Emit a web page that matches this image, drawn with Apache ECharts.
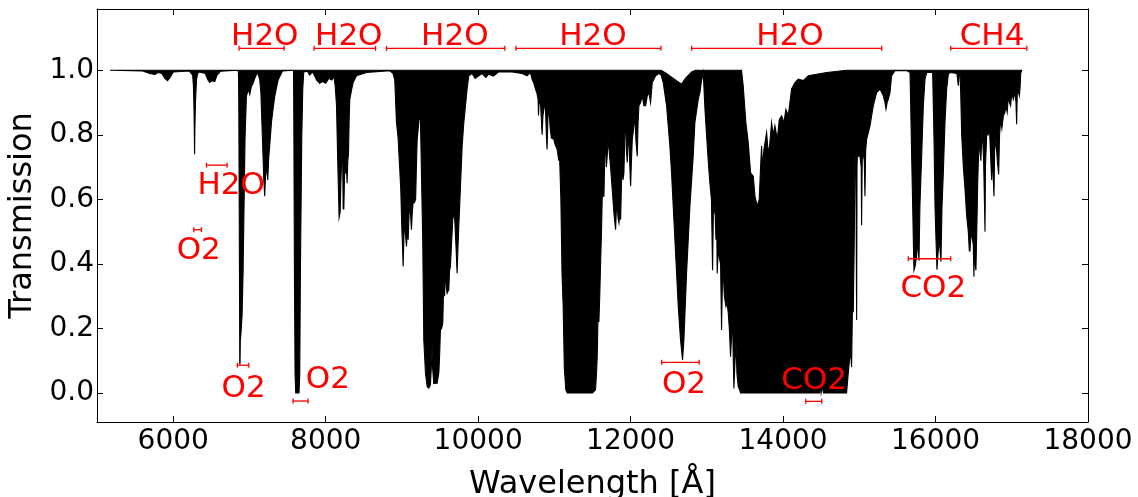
<!DOCTYPE html>
<html>
<head>
<meta charset="utf-8">
<script src="https://cdn.jsdelivr.net/npm/echarts@6/dist/echarts.min.js"></script>
<style>
  html, body { margin: 0; padding: 0; background: #fff; overflow: hidden; }
  #chart { width: 1138px; height: 497px; }
</style>
</head>
<body>
<div id="chart"></div>
<script>
// ---------------- DATA ----------------
const xTickValues = [6000, 8000, 10000, 12000, 14000, 16000, 18000];
const xTickLabels = ['6000', '8000', '10000', '12000', '14000', '16000', '18000'];
const yTickValues = [0, 0.2, 0.4, 0.6, 0.8, 1.0];
const yTickLabels = ['0.0', '0.2', '0.4', '0.6', '0.8', '1.0'];

// upper edge of the (dense) transmission spectrum: [wavelength Å, transmission]
const upperEnvelope = [
  [5170, 1.0], [12400, 1.0], [12470, 0.99], [12560, 0.975], [12620, 0.965], [12668, 0.957],
  [12720, 0.975], [12800, 0.995], [12850, 1.0], [13455, 1.0], [13477, 0.952], [13512, 0.838],
  [13543, 0.776], [13574, 0.682], [13609, 0.672], [13631, 0.610], [13661, 0.579], [13687, 0.600],
  [13705, 0.70], [13718, 0.765], [13730, 0.70], [13749, 0.755], [13784, 0.807], [13800, 0.76],
  [13819, 0.755], [13849, 0.838], [13870, 0.80], [13893, 0.828], [13924, 0.786], [13950, 0.848],
  [13981, 0.859], [14011, 0.838], [14037, 0.879], [14068, 0.859], [14112, 0.942], [14156, 0.962],
  [14200, 0.973], [14265, 0.968], [14331, 0.983], [14440, 0.988], [14571, 0.993], [14833, 1.0],
  [17130, 1.0]
];

// lower edge of the transmission spectrum: [wavelength Å, transmission]
const lowerEnvelope = [
  [5170, 1.0], [5600, 0.998], [5690, 0.99], [5760, 0.987], [5800, 0.993], [5850, 0.99], [5890, 0.975],
  [5925, 0.968], [5960, 0.978], [6000, 0.995], [6210, 0.998], [6255, 0.985], [6265, 0.95], [6272, 0.88],
  [6276, 0.82], [6280, 0.74], [6284, 0.82], [6292, 0.90], [6305, 0.97], [6320, 0.99], [6340, 0.995],
  [6420, 0.99], [6455, 0.97], [6480, 0.962], [6510, 0.968], [6545, 0.965], [6575, 0.985], [6620, 0.997],
  [6850, 1.0],
  [6856, 0.99], [6860, 0.9], [6866, 0.55], [6869, 0.37], [6873, 0.09], [6876, 0.09], [6880, 0.16],
  [6890, 0.19], [6903, 0.24], [6916, 0.37], [6929, 0.58], [6942, 0.79], [6960, 0.92], [6985, 0.94],
  [7004, 0.925], [7025, 0.95], [7047, 0.96], [7070, 0.975], [7092, 0.987], [7113, 0.99], [7135, 0.97],
  [7150, 0.93], [7170, 0.79], [7188, 0.66], [7200, 0.61], [7212, 0.68], [7223, 0.70], [7240, 0.66],
  [7253, 0.73], [7270, 0.78], [7289, 0.84], [7310, 0.88], [7332, 0.92], [7376, 0.97], [7433, 0.998],
  [7578, 1.0], [7582, 0.85], [7586, 0.6], [7590, 0.37], [7598, 0.06], [7607, 0.0], [7650, 0.0],
  [7660, 0.06], [7668, 0.37], [7677, 0.58], [7686, 0.79], [7699, 0.94], [7712, 0.995], [7760, 0.997],
  [7790, 0.985], [7830, 0.995], [7880, 0.97], [7920, 0.96], [7960, 0.965], [8000, 0.96], [8040, 0.975],
  [8080, 0.97], [8110, 0.98], [8125, 0.95], [8142, 0.89], [8155, 0.75], [8165, 0.65], [8176, 0.543],
  [8190, 0.56], [8200, 0.66], [8210, 0.72], [8220, 0.80], [8229, 0.57], [8238, 0.57], [8250, 0.70],
  [8260, 0.68], [8270, 0.72], [8281, 0.65], [8290, 0.72], [8299, 0.74], [8308, 0.85], [8316, 0.91],
  [8340, 0.94], [8360, 0.962], [8404, 0.983], [8535, 0.993], [8841, 0.999],
  [8884, 0.99], [8906, 0.97], [8928, 0.84], [8950, 0.79], [8970, 0.70], [8985, 0.63], [9000, 0.50],
  [9008, 0.454], [9016, 0.392], [9028, 0.50], [9038, 0.516], [9050, 0.48], [9060, 0.454], [9070, 0.50],
  [9082, 0.475], [9093, 0.55], [9103, 0.589], [9114, 0.55], [9125, 0.506], [9136, 0.56], [9147, 0.589],
  [9165, 0.59], [9180, 0.601], [9190, 0.70], [9200, 0.786], [9225, 0.848], [9243, 0.848], [9256, 0.682],
  [9273, 0.475], [9287, 0.164], [9309, 0.061], [9331, 0.019], [9352, 0.015], [9374, 0.025], [9390, 0.10],
  [9396, 0.154], [9402, 0.08], [9418, 0.029], [9440, 0.03], [9462, 0.03], [9475, 0.05], [9484, 0.061],
  [9495, 0.12], [9505, 0.195], [9520, 0.20], [9536, 0.216], [9549, 0.350], [9560, 0.30], [9571, 0.392],
  [9582, 0.33], [9593, 0.309], [9615, 0.32], [9625, 0.38], [9636, 0.392], [9650, 0.46], [9667, 0.537],
  [9680, 0.56], [9693, 0.537], [9710, 0.45], [9724, 0.371], [9735, 0.45], [9746, 0.516], [9768, 0.641],
  [9790, 0.765], [9812, 0.838], [9834, 0.890], [9855, 0.942], [9877, 0.983], [9921, 0.99], [9960, 0.975],
  [10008, 0.983], [10052, 0.99], [10100, 0.978], [10139, 0.988], [10200, 0.982], [10270, 0.995],
  [10445, 0.995], [10576, 0.99], [10642, 0.983], [10664, 0.988],
  [10686, 0.993], [10707, 0.973], [10730, 0.96], [10751, 0.942], [10770, 0.93], [10786, 0.910],
  [10792, 0.86], [10800, 0.91], [10820, 0.89], [10839, 0.80], [10850, 0.86], [10870, 0.89], [10882, 0.89],
  [10895, 0.80], [10904, 0.755], [10915, 0.85], [10926, 0.890], [10945, 0.82], [10961, 0.79],
  [10992, 0.786], [11010, 0.77], [11036, 0.755], [11058, 0.721], [11070, 0.72], [11085, 0.60],
  [11100, 0.37], [11115, 0.27], [11130, 0.08], [11150, 0.01], [11170, 0.0], [11500, 0.0], [11540, 0.01],
  [11552, 0.06], [11562, 0.113], [11575, 0.268], [11584, 0.22], [11595, 0.30], [11606, 0.40],
  [11618, 0.50], [11628, 0.610], [11650, 0.610], [11660, 0.72], [11672, 0.79], [11682, 0.70],
  [11693, 0.734], [11705, 0.786], [11715, 0.76], [11737, 0.70], [11759, 0.630], [11781, 0.558],
  [11803, 0.506], [11815, 0.58], [11825, 0.579], [11836, 0.54], [11847, 0.527], [11860, 0.56],
  [11869, 0.537], [11880, 0.65], [11891, 0.721], [11900, 0.66], [11912, 0.682], [11925, 0.80],
  [11934, 0.879], [11945, 0.75], [11956, 0.714], [11967, 0.78], [11978, 0.786], [11990, 0.70],
  [12000, 0.641], [12011, 0.72], [12022, 0.786], [12040, 0.82], [12057, 0.859], [12070, 0.78],
  [12087, 0.734], [12098, 0.84], [12109, 0.890], [12130, 0.90], [12153, 0.921], [12175, 0.89],
  [12197, 0.890], [12218, 0.92], [12240, 0.931], [12262, 0.900], [12284, 0.962], [12328, 0.983],
  [12371, 0.99], [12400, 0.985],
  [12428, 0.962], [12472, 0.890], [12515, 0.765], [12537, 0.682], [12581, 0.475], [12625, 0.268],
  [12655, 0.164], [12681, 0.102], [12699, 0.164], [12734, 0.371], [12778, 0.579], [12821, 0.734],
  [12843, 0.838], [12887, 0.910], [12909, 0.931], [12925, 0.96], [12944, 0.983], [12953, 0.993],
  [12975, 0.88], [12996, 0.80], [13018, 0.72], [13040, 0.65], [13060, 0.60], [13075, 0.38], [13085, 0.55],
  [13093, 0.58], [13110, 0.55], [13119, 0.475], [13128, 0.55], [13136, 0.37], [13150, 0.45], [13163, 0.42],
  [13180, 0.40], [13193, 0.195], [13205, 0.35], [13215, 0.371], [13230, 0.30], [13250, 0.268],
  [13265, 0.28], [13281, 0.247], [13295, 0.20], [13311, 0.112], [13325, 0.18], [13338, 0.216],
  [13347, 0.10], [13355, 0.014], [13368, 0.09], [13381, 0.16], [13395, 0.06], [13412, 0.019],
  [13430, 0.01], [13442, 0.0], [14480, 0.0], [14490, 0.03], [14500, 0.0], [14520, 0.02], [14530, 0.0],
  [14833, 0.0], [14855, 0.061], [14870, 0.10], [14886, 0.129], [14899, 0.08], [14912, 0.30],
  [14921, 0.25], [14934, 0.475], [14943, 0.734], [14955, 0.70], [14965, 0.226], [14970, 0.70],
  [14974, 0.734], [15008, 0.734], [15025, 0.70], [15030, 0.52], [15037, 0.70], [15043, 0.755],
  [15065, 0.72], [15074, 0.61], [15083, 0.75], [15096, 0.786], [15140, 0.828], [15183, 0.890],
  [15227, 0.931], [15271, 0.942], [15315, 0.921], [15337, 0.90], [15350, 0.88], [15365, 0.90],
  [15380, 0.910], [15402, 0.93], [15424, 0.983], [15468, 0.999], [15621, 0.999],
  [15665, 0.993], [15674, 0.89], [15687, 0.73], [15700, 0.58], [15708, 0.48], [15717, 0.38],
  [15730, 0.39], [15752, 0.423], [15765, 0.475], [15783, 0.41], [15795, 0.579], [15818, 0.734],
  [15840, 0.890], [15862, 0.973], [15884, 0.993], [15962, 0.993], [15980, 0.786], [15993, 0.579],
  [16006, 0.475], [16019, 0.382], [16032, 0.43], [16050, 0.475], [16071, 0.407], [16085, 0.579],
  [16102, 0.682], [16124, 0.838], [16146, 0.942], [16168, 0.988], [16190, 0.993], [16280, 0.99],
  [16299, 0.952], [16310, 0.99], [16321, 0.99], [16330, 0.93], [16343, 0.80], [16365, 0.70],
  [16387, 0.63], [16408, 0.55], [16430, 0.50], [16443, 0.44], [16452, 0.44], [16465, 0.50],
  [16480, 0.48], [16495, 0.46], [16504, 0.36], [16510, 0.45], [16521, 0.40], [16530, 0.38],
  [16545, 0.55], [16553, 0.652], [16570, 0.78], [16595, 0.72], [16610, 0.82], [16630, 0.73],
  [16645, 0.55], [16649, 0.50], [16655, 0.70], [16671, 0.80], [16690, 0.80], [16706, 0.83],
  [16725, 0.72], [16736, 0.66], [16745, 0.74], [16760, 0.65], [16767, 0.61], [16775, 0.75],
  [16793, 0.786], [16810, 0.72], [16828, 0.677], [16840, 0.80], [16854, 0.848], [16870, 0.82],
  [16890, 0.859], [16910, 0.87], [16924, 0.890], [16940, 0.87], [16955, 0.92], [16970, 0.90],
  [16985, 0.89], [17000, 0.93], [17020, 0.91], [17043, 0.931], [17055, 0.90], [17064, 0.833],
  [17072, 0.93], [17090, 0.93], [17100, 0.921], [17110, 0.95], [17117, 0.99], [17130, 1.0]
];

// molecular band annotations
const bandLabels = ['H2O', 'H2O', 'H2O', 'H2O', 'H2O', 'CH4', 'H2O', 'O2', 'O2', 'O2', 'O2', 'CO2', 'CO2'];
// [start Å, end Å, transmission level of the bracket]
const bandRanges = [
  [6864, 7455, 1.068], [7848, 8654, 1.068], [8798, 10350, 1.068], [10495, 12398, 1.068],
  [12801, 15294, 1.068], [16199, 17197, 1.068],
  [6436, 6706, 0.706], [6269, 6370, 0.506], [6842, 6991, 0.086], [7572, 7769, -0.025],
  [12407, 12900, 0.095], [14297, 14507, -0.026], [15643, 16199, 0.416]
];
// label anchor [wavelength Å, transmission]
const bandLabelPos = [
  [7201, 1.102], [8303, 1.102], [9694, 1.102], [11505, 1.102], [14090, 1.102], [16741, 1.102],
  [6761, 0.641], [6335, 0.441], [6923, 0.011], [8028, 0.040], [12700, 0.026], [14408, 0.037],
  [15971, 0.322]
];

// ---------------- CHART ----------------
const FONT = '"DejaVu Sans", sans-serif';
const chart = echarts.init(document.getElementById('chart'), null, { renderer: 'canvas' });

function fmtX(v) {
  const i = xTickValues.indexOf(v);
  return i >= 0 ? xTickLabels[i] : '';
}
function fmtY(v) {
  const i = yTickValues.findIndex(t => Math.abs(t - v) < 1e-9);
  return i >= 0 ? yTickLabels[i] : '';
}

const frameLine = { show: true, onZero: false, lineStyle: { color: '#000', width: 1 } };
const tickStyle = { color: '#000', width: 1 };

const option = {
  backgroundColor: '#fff',
  animation: false,
  grid: { left: 97, right: 50, top: 9, bottom: 75, containLabel: false, outerBoundsMode: 'none' },
  xAxis: [
    {
      type: 'value', min: 5000, max: 18000, position: 'bottom', z: 5,
      axisLine: frameLine,
      axisTick: { show: true, inside: true, length: 6, customValues: xTickValues, lineStyle: tickStyle },
      axisLabel: { show: true, customValues: xTickValues, formatter: fmtX, margin: 6,
        fontFamily: FONT, fontSize: 28, color: '#000' },
      splitLine: { show: false },
      name: 'Wavelength [Å]', nameLocation: 'middle', nameGap: 47,
      nameTextStyle: { fontFamily: FONT, fontSize: 32, color: '#000' }
    },
    {
      type: 'value', min: 5000, max: 18000, position: 'top', z: 5,
      axisLine: frameLine,
      axisTick: { show: true, inside: true, length: 6, customValues: xTickValues, lineStyle: tickStyle },
      axisLabel: { show: false },
      splitLine: { show: false }
    }
  ],
  yAxis: [
    {
      type: 'value', min: -0.09, max: 1.19, position: 'left', z: 5,
      axisLine: frameLine,
      axisTick: { show: true, inside: true, length: 6, customValues: yTickValues, lineStyle: tickStyle },
      axisLabel: { show: true, customValues: yTickValues, formatter: fmtY, margin: 3,
        fontFamily: FONT, fontSize: 28, color: '#000' },
      splitLine: { show: false },
      name: 'Transmission', nameLocation: 'middle', nameGap: 57, nameRotate: 90,
      nameTextStyle: { fontFamily: FONT, fontSize: 32, color: '#000' }
    },
    {
      type: 'value', min: -0.09, max: 1.19, position: 'right', z: 5,
      axisLine: frameLine,
      axisTick: { show: true, inside: true, length: 6, customValues: yTickValues, lineStyle: tickStyle },
      axisLabel: { show: false },
      splitLine: { show: false }
    }
  ],
  series: [
    {
      // filled band between the lower and upper edges of the spectrum
      name: 'spectrum', type: 'custom', xAxisIndex: 0, yAxisIndex: 0, z: 2, silent: true,
      data: [upperEnvelope[0]],
      renderItem: function (params, api) {
        const pts = [];
        for (let i = 0; i < upperEnvelope.length; i++) pts.push(api.coord(upperEnvelope[i]));
        for (let i = lowerEnvelope.length - 1; i >= 0; i--) pts.push(api.coord(lowerEnvelope[i]));
        return {
          type: 'polygon',
          shape: { points: pts },
          style: { fill: '#000', stroke: '#000', lineWidth: 1.1, lineJoin: 'miter' }
        };
      }
    },
    {
      name: 'bands', type: 'custom', xAxisIndex: 0, yAxisIndex: 0, z: 6, silent: true,
      data: bandRanges,
      encode: { x: [0, 1], y: 2 },
      renderItem: function (params, api) {
        const y = api.value(2);
        const a = api.coord([api.value(0), y]);
        const b = api.coord([api.value(1), y]);
        const h = 2.5;
        const st = { stroke: '#ff0000', lineWidth: 1.3 };
        return {
          type: 'group',
          children: [
            { type: 'line', shape: { x1: a[0], y1: a[1], x2: b[0], y2: b[1] }, style: st },
            { type: 'line', shape: { x1: a[0], y1: a[1] - h, x2: a[0], y2: a[1] + h }, style: st },
            { type: 'line', shape: { x1: b[0], y1: b[1] - h, x2: b[0], y2: b[1] + h }, style: st }
          ]
        };
      }
    },
    {
      name: 'labels', type: 'custom', xAxisIndex: 0, yAxisIndex: 0, z: 7, silent: true,
      data: bandLabelPos,
      renderItem: function (params, api) {
        const p = api.coord([api.value(0), api.value(1)]);
        return {
          type: 'text', x: p[0], y: p[1],
          style: {
            text: bandLabels[params.dataIndex],
            fill: '#ff0000', fontFamily: FONT, fontSize: 31,
            align: 'center', verticalAlign: 'middle'
          }
        };
      }
    }
  ]
};
chart.setOption(option);
</script>
</body>
</html>
